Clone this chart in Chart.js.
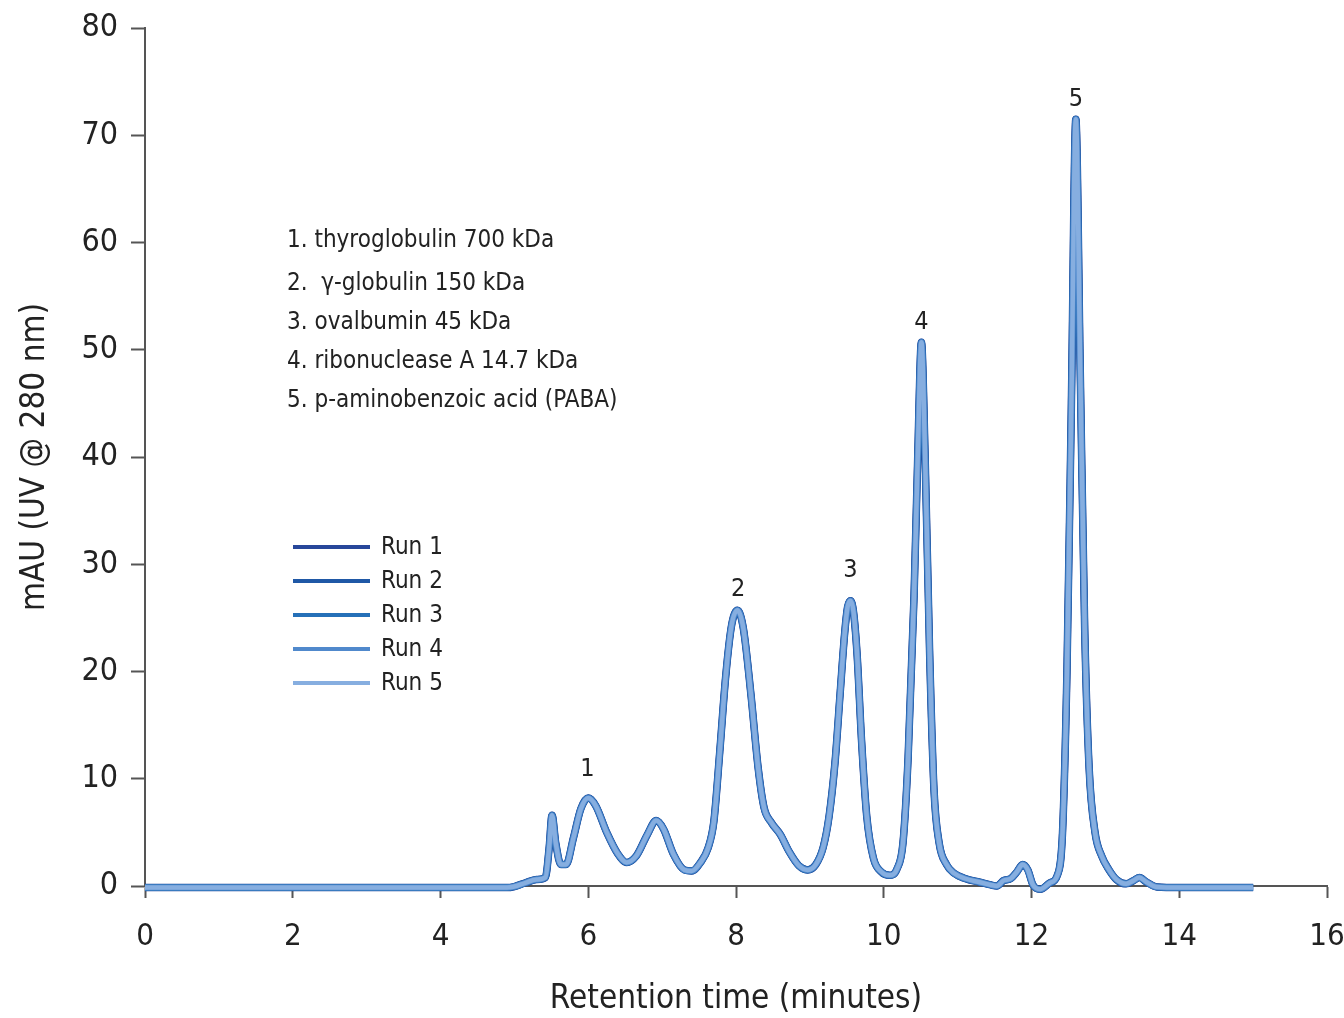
<!DOCTYPE html>
<html>
<head>
<meta charset="utf-8">
<script src="https://cdn.jsdelivr.net/npm/chart.js@4.4.1/dist/chart.umd.min.js"></script>
<style>
  html, body { margin: 0; padding: 0; background: #fff; }
  #wrap { width: 1344px; height: 1018px; }
</style>
</head>
<body>
<div id="wrap"><canvas id="chrom" width="1344" height="1018"></canvas></div>
<script>
// ---- data ----
const retentionTimes = [
  0, 1, 2, 3, 4, 4.6, 4.9, 5.0, 5.15, 5.3, 5.42, 5.47, 5.51, 5.56, 5.63, 5.7,
  5.8, 5.9, 6.0, 6.1, 6.25, 6.4, 6.52, 6.65, 6.8, 6.92, 7.02, 7.15, 7.3, 7.4,
  7.52, 7.62, 7.7, 7.78, 7.86, 7.94, 8.02, 8.1, 8.2, 8.3, 8.38, 8.48, 8.6, 8.72,
  8.85, 8.97, 9.08, 9.18, 9.26, 9.34, 9.41, 9.47, 9.51, 9.55, 9.59, 9.64, 9.7, 9.77,
  9.86, 9.97, 10.08, 10.18, 10.26, 10.33, 10.41, 10.46, 10.51, 10.56, 10.62, 10.68,
  10.75, 10.85, 10.95, 11.1, 11.3, 11.45, 11.53, 11.62, 11.72, 11.8, 11.88, 11.95,
  12.02, 12.12, 12.25, 12.35, 12.42, 12.48, 12.54, 12.6, 12.66, 12.72, 12.78, 12.86,
  12.95, 13.05, 13.15, 13.28, 13.38, 13.46, 13.55, 13.7, 14.0, 15.0
];
const absorbance = [
  -0.15, -0.15, -0.15, -0.15, -0.15, -0.15, -0.15, -0.05, 0.3, 0.6, 0.8, 3.5, 6.6, 4.0, 2.0, 2.0,
  4.5, 7.2, 8.2, 7.5, 5.0, 3.0, 2.2, 2.8, 4.8, 6.1, 5.3, 3.0, 1.5, 1.4,
  2.2, 3.5, 6.0, 12.5, 19.5, 24.3, 25.7, 24.0, 18.0, 11.0, 7.3, 5.9, 4.8, 3.2,
  1.9, 1.5, 2.0, 3.6, 6.5, 11.5, 18.0, 23.5, 26.0, 26.6, 25.6, 21.5, 13.5, 6.5,
  2.6, 1.3, 1.0, 1.6, 4.0, 12.0, 27.0, 40.0, 50.7, 40.0, 22.0, 9.0,
  4.0, 2.0, 1.2, 0.7, 0.35, 0.1, 0.0, 0.5, 0.7, 1.3, 2.0, 1.5,
  0.1, -0.3, 0.3, 1.0, 5.0, 20.0, 45.0, 71.5, 48.0, 24.0, 11.0, 5.0,
  2.8, 1.5, 0.6, 0.2, 0.5, 0.8, 0.4, -0.1, -0.15, -0.15
];
const runNames  = ["Run 1", "Run 2", "Run 3", "Run 4", "Run 5"];
const runColors = ["#27479a", "#1f58a6", "#2570b8", "#5089cc", "#86aee0"];
const runWidths = [7.5, 7, 6.5, 6, 4.5];

const peakNumbers = ["1", "2", "3", "4", "5"];
const peakTimes   = [5.99, 8.03, 9.55, 10.51, 12.6];
const peakHeights = [8.2, 25.7, 26.6, 50.7, 71.5];

const compoundList = [
  "1. thyroglobulin 700 kDa",
  "2.  \u03b3-globulin 150 kDa",
  "3. ovalbumin 45 kDa",
  "4. ribonuclease A 14.7 kDa",
  "5. p-aminobenzoic acid (PABA)"
];

const FONT = "'Liberation Sans Narrow', 'DejaVu Sans Condensed', sans-serif";
const INK = "#222";
const AXIS = "#555";

// legend + peak numbers + compound list drawn on the canvas
const notesPlugin = {
  id: "notes",
  afterDatasetsDraw(chart) {
    const { ctx, scales: { x, y } } = chart;
    ctx.save();
    ctx.fillStyle = INK;
    ctx.textBaseline = "middle";

    // peak numbers above each peak
    ctx.font = "25px " + FONT;
    ctx.textAlign = "center";
    const gap = [29, 21, 30, 20, 20];
    peakNumbers.forEach((n, i) => {
      ctx.fillText(n, x.getPixelForValue(peakTimes[i]), y.getPixelForValue(peakHeights[i]) - gap[i]);
    });

    // compound list
    ctx.font = "24px " + FONT;
    ctx.textAlign = "left";
    const listY = [241, 284, 323, 362, 401];
    compoundList.forEach((s, i) => ctx.fillText(s, 287, listY[i]));

    // legend
    runNames.forEach((name, i) => {
      const ly = 547 + i * 34;
      ctx.strokeStyle = runColors[i];
      ctx.lineWidth = 4;
      ctx.beginPath();
      ctx.moveTo(293, ly);
      ctx.lineTo(370, ly);
      ctx.stroke();
      ctx.fillText(name, 381, ly + 1);
    });
    ctx.restore();
  }
};

function drawChart() {
  Chart.defaults.font.family = FONT;
  Chart.defaults.color = INK;

  const points = retentionTimes.map((t, i) => ({ x: t, y: absorbance[i] }));

  new Chart(document.getElementById("chrom"), {
    type: "line",
    data: {
      datasets: runNames.map((name, i) => ({
        label: name,
        data: points,
        borderColor: runColors[i],
        borderWidth: runWidths[i],
        pointRadius: 0,
        cubicInterpolationMode: "monotone",
        fill: false,
        clip: false,
        order: runNames.length - i
      }))
    },
    options: {
      responsive: false,
      animation: false,
      events: [],
      layout: { padding: { top: 28, right: 0, left: 0, bottom: 0 } },
      plugins: { legend: { display: false }, tooltip: { enabled: false } },
      scales: {
        x: {
          type: "linear", min: 0, max: 16,
          ticks: { stepSize: 2, color: INK, font: { size: 31 }, padding: 20, maxRotation: 0 },
          grid: { drawOnChartArea: false, drawTicks: true, tickLength: 12, tickWidth: 2, tickColor: AXIS },
          border: { color: AXIS, width: 2 },
          title: { display: true, text: "Retention time (minutes)", color: INK, font: { size: 33, lineHeight: 1.1 }, padding: { top: 0, bottom: 0 } },
          afterFit(s) { s.height = 132; s.paddingLeft = 0; s.paddingRight = 17; }
        },
        y: {
          type: "linear", min: 0, max: 80,
          ticks: { stepSize: 10, color: INK, font: { size: 32 }, padding: 13 },
          grid: { drawOnChartArea: false, drawTicks: true, tickLength: 14, tickWidth: 2, tickColor: AXIS },
          border: { color: AXIS, width: 2 },
          title: { display: true, text: "mAU (UV @ 280 nm)", color: INK, font: { size: 33 }, padding: { top: 16, bottom: 0 } },
          afterFit(s) { s.width = 145; s.paddingTop = 0; s.paddingBottom = 0; }
        }
      }
    },
    plugins: [notesPlugin]
  });
}

// wait for the narrow face so every label uses it
if (document.fonts && document.fonts.load) {
  Promise.all([
    document.fonts.load("32px 'Liberation Sans Narrow'"),
    document.fonts.load("32px 'DejaVu Sans Condensed'")
  ]).then(drawChart, drawChart);
} else {
  drawChart();
}
</script>
</body>
</html>
